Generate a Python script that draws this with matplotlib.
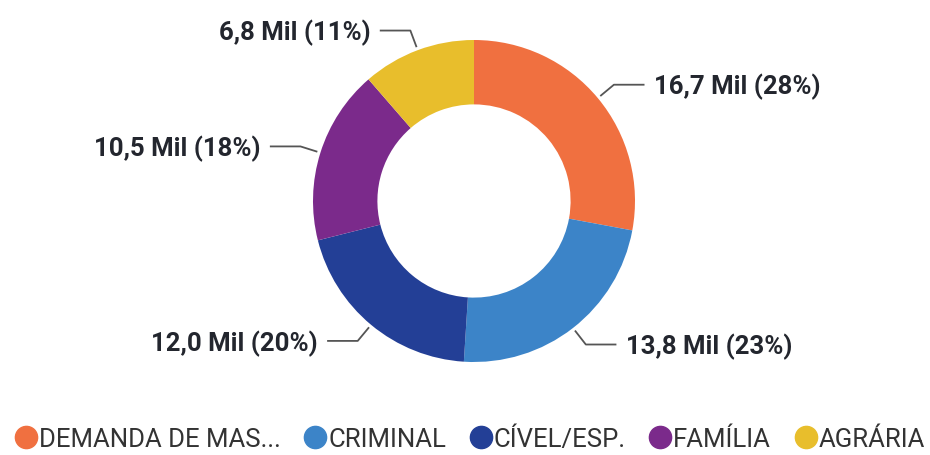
import numpy as np
import matplotlib
matplotlib.use('Agg')
import matplotlib.pyplot as plt
from matplotlib.lines import Line2D

categories = ['DEMANDA DE MAS...', 'CRIMINAL', 'CÍVEL/ESP.', 'FAMÍLIA', 'AGRÁRIA']
values = [16.7, 13.8, 12.0, 10.5, 6.8]
labels = ['16,7 Mil (28%)', '13,8 Mil (23%)', '12,0 Mil (20%)', '10,5 Mil (18%)', '6,8 Mil (11%)']
colors = ['#F07040', '#3C84C8', '#233F96', '#7B2A8B', '#E8BE2C']

plt.rcParams['font.family'] = ['Roboto', 'DejaVu Sans']

fig = plt.figure(figsize=(9.3, 4.56), dpi=100)
fig.patch.set_facecolor('white')

# donut: center at (474, 202) px, outer radius 161 px
R = 161.0
half = 220.0
cx, cy = 474.0, 456 - 202.0
ax = fig.add_axes([(cx - half) / 930, (cy - half) / 456, 2 * half / 930, 2 * half / 456])

wedges, _ = ax.pie(values, colors=colors, startangle=90, counterclock=False,
                   radius=1.0, wedgeprops=dict(width=0.40, linewidth=0))

lim = half / R
ax.set_xlim(-lim, lim)
ax.set_ylim(-lim, lim)
ax.set_aspect('equal')
ax.axis('off')

line_col = '#555555'
text_col = '#23262e'
for w, lab in zip(wedges, labels):
    ang = np.deg2rad((w.theta1 + w.theta2) / 2)
    ca, sa = np.cos(ang), np.sin(ang)
    x0, y0 = 1.02 * ca, 1.02 * sa
    x1, y1 = 1.13 * ca, 1.13 * sa
    side = 1 if ca > 0 else -1
    x2 = x1 + side * 0.19
    ax.plot([x0, x1, x2], [y0, y1, y1], color=line_col, lw=1.3,
            solid_capstyle='butt', clip_on=False)
    ax.text(x2 + side * 0.06, y1 - 0.01, lab, ha='left' if side > 0 else 'right',
            va='center', fontsize=18.5, fontweight='bold', color=text_col)

handles = [Line2D([], [], marker='o', linestyle='none', markersize=16,
                  markerfacecolor=c, markeredgecolor=c) for c in colors]
fig.legend(handles, categories, loc='center', bbox_to_anchor=(0.505, 1 - 440 / 456),
           ncol=5, frameon=False, fontsize=18.5, handletextpad=0.05,
           columnspacing=0.9, handlelength=0.9, labelcolor='#333333')

fig.savefig('out.png', dpi=100, facecolor='white')
